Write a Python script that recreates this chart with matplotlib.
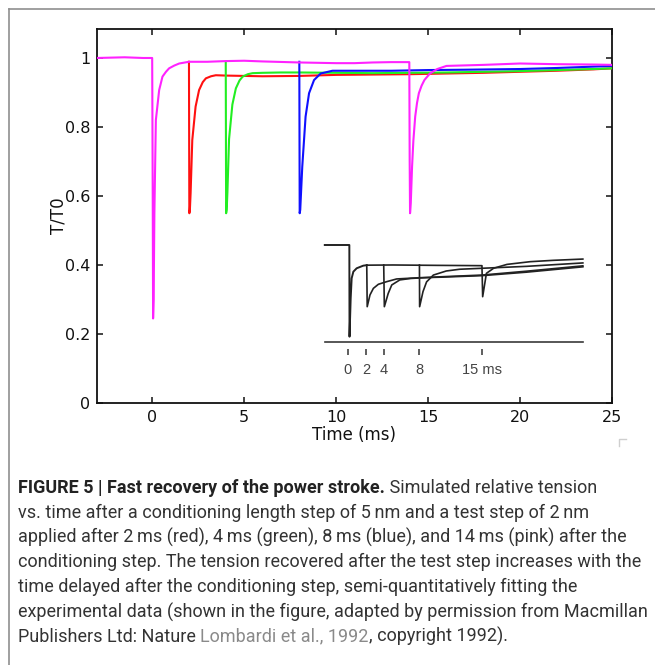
import matplotlib
matplotlib.use('Agg')
import matplotlib.pyplot as plt
from matplotlib import font_manager
from matplotlib.lines import Line2D

# ---------------- data (main simulated traces) ----------------
t_pink = [-3, -1.5, -0.5, 0.0, 0.03, 0.05, 0.08, 0.12, 0.2, 0.38, 0.56, 0.75, 0.92, 1.2, 1.47,
          2.0, 3, 4, 5, 6, 8, 10, 11, 12, 13, 13.98, 14.0, 14.02, 14.06, 14.13, 14.2, 14.3,
          14.4, 14.5, 14.65, 14.8, 15.1, 15.5, 16, 18, 20, 22, 24, 25]
T_pink = [1.0, 1.002, 1.0, 1.0, 0.6, 0.245, 0.30, 0.55, 0.82, 0.907, 0.946, 0.96, 0.97, 0.978, 0.984,
          0.989, 0.989, 0.991, 0.992, 0.99, 0.987, 0.985, 0.985, 0.987, 0.988, 0.988, 0.7, 0.55, 0.58,
          0.685, 0.76, 0.83, 0.87, 0.898, 0.92, 0.936, 0.955, 0.968, 0.977, 0.98, 0.984, 0.982, 0.981, 0.98]

t_red = [2.0, 2.02, 2.05, 2.09, 2.18, 2.36, 2.55, 2.75, 2.92, 3.2, 3.46, 4, 5, 6, 8, 10, 12, 14,
         16, 18, 20, 22, 24, 25]
T_red = [0.989, 0.55, 0.56, 0.609, 0.762, 0.859, 0.907, 0.93, 0.941, 0.947, 0.95, 0.949, 0.948,
         0.947, 0.948, 0.951, 0.952, 0.953, 0.955, 0.957, 0.96, 0.963, 0.967, 0.97]

t_green = [4.0, 4.02, 4.05, 4.09, 4.18, 4.36, 4.55, 4.75, 4.92, 5.2, 5.46, 6, 7, 8, 10, 12, 14,
           16, 18, 20, 22, 24, 25]
T_green = [0.989, 0.55, 0.56, 0.61, 0.765, 0.865, 0.912, 0.935, 0.946, 0.953, 0.956, 0.957, 0.958,
           0.958, 0.957, 0.956, 0.957, 0.958, 0.96, 0.962, 0.965, 0.968, 0.97]

t_blue = [8.0, 8.02, 8.05, 8.16, 8.34, 8.53, 8.8, 9.16, 9.8, 11, 13, 15, 17, 20, 22, 24, 25]
T_blue = [0.989, 0.55, 0.56, 0.685, 0.83, 0.898, 0.936, 0.955, 0.963, 0.963, 0.963, 0.965, 0.966,
          0.968, 0.971, 0.975, 0.977]

# ---------------- data (inset: experimental traces, relative units) ----------------
tin_cond = [-2.6, 0.0, 0.15, 0.17, 0.3, 0.41, 0.6, 0.97, 1.71, 2.1]
Tin_cond = [1.0, 1.0, 1.0, 0.055, 0.45, 0.657, 0.725, 0.76, 0.787, 0.792]

tin_15 = [2.1, 5, 10, 14.8, 15.0, 15.08, 15.5, 16.3, 17.8, 20.4, 23, 26.3]
Tin_15 = [0.792, 0.794, 0.79, 0.787, 0.787, 0.467, 0.708, 0.76, 0.80, 0.828, 0.842, 0.855]

tin_2 = [2.1, 2.15, 2.46, 2.84, 3.4, 4.33, 5.45, 8.06, 10.3, 15, 20, 26.3]
Tin_2 = [0.792, 0.364, 0.485, 0.553, 0.595, 0.622, 0.65, 0.663, 0.668, 0.684, 0.72, 0.775]

tin_4 = [4.0, 4.07, 4.5, 4.9, 5.8, 7, 10.3, 15, 20, 26.3]
Tin_4 = [0.794, 0.364, 0.50, 0.588, 0.64, 0.655, 0.672, 0.69, 0.73, 0.785]

tin_8 = [8.0, 8.02, 8.4, 8.8, 9.56, 11.0, 12.5, 15, 20, 26.3]
Tin_8 = [0.794, 0.364, 0.52, 0.62, 0.69, 0.732, 0.75, 0.76, 0.78, 0.815]

tin_base = [-2.6, 26.3]
Tin_base = [0.0, 0.0]

inset_ticks = [0, 2, 4, 8, 15]
inset_tick_labels = ['0', '2', '4', '8', '15 ms']

x_ticks = [0, 5, 10, 15, 20, 25]
y_ticks = [0, 0.2, 0.4, 0.6, 0.8, 1.0]
y_tick_labels = ['0', '0.2', '0.4', '0.6', '0.8', '1']

TXT = '#333333'
caption_lines = [
    [("FIGURE 5 | Fast recovery of the power stroke.", 'bold', '#222222'),
     (" Simulated relative tension", 'normal', TXT)],
    [("vs. time after a conditioning length step of 5\u2009nm and a test step of 2\u2009nm", 'normal', TXT)],
    [("applied after 2\u2009ms (red), 4\u2009ms (green), 8\u2009ms (blue), and 14\u2009ms (pink) after the", 'normal', TXT)],
    [("conditioning step. The tension recovered after the test step increases with the", 'normal', TXT)],
    [("time delayed after the conditioning step, semi-quantitatively fitting the", 'normal', TXT)],
    [("experimental data (shown in the figure, adapted by permission from Macmillan", 'normal', TXT)],
    [("Publishers Ltd: Nature ", 'normal', TXT),
     ("Lombardi et al., 1992", 'normal', '#8a8a8a'),
     (", copyright 1992).", 'normal', TXT)],
]

# ---------------- figure ----------------
W, H = 655, 665
fig = plt.figure(figsize=(W / 100, H / 100), dpi=100)
fig.patch.set_facecolor('white')


def fx(px):
    return px / W


def fy(py):
    return 1 - py / H


# outer frame (left and top edges)
fig.add_artist(Line2D([fx(8.5), fx(8.5)], [fy(8.5), -0.01], color='#8f8f8f', lw=1.2,
                      transform=fig.transFigure))
fig.add_artist(Line2D([fx(8.5), 1.01], [fy(8.5), fy(8.5)], color='#8f8f8f', lw=1.2,
                      transform=fig.transFigure))

# main axes
ax = fig.add_axes([fx(97), fy(403), (612 - 97) / W, (403 - 29) / H])
ax.plot(t_red, T_red, color='#ff1010', lw=1.5, zorder=3)
ax.plot(t_green, T_green, color='#22ee22', lw=1.5, zorder=3)
ax.plot(t_blue, T_blue, color='#1010ff', lw=1.5, zorder=3)
ax.plot(t_pink, T_pink, color='#ff22ff', lw=1.5, zorder=4)
ax.set_xlim(-3, 25)
ax.set_ylim(0, 1.084)
ax.set_xticks(x_ticks)
ax.set_xticklabels([str(v) for v in x_ticks])
ax.set_yticks(y_ticks)
ax.set_yticklabels(y_tick_labels)
ax.tick_params(direction='in', top=True, right=True, length=4, width=1.1,
               labelsize=11.5, colors='#111111', pad=5)
for s in ax.spines.values():
    s.set_linewidth(1.3)
    s.set_color('#111111')
ax.set_xlabel('Time (ms)', fontsize=12, color='#111111', labelpad=1)
ax.set_ylabel('T/T0', fontsize=12, color='#111111', labelpad=-2)

# inset (experimental data)
ax_in = fig.add_axes([fx(320), fy(385), 270 / W, 145 / H])
ax_in.set_xlim((320 - 348) / 8.93, (590 - 348) / 8.93)
ax_in.set_ylim((342 - 385) / 97, (342 - 240) / 97)
ax_in.axis('off')
ax_in.patch.set_alpha(0)
lc = '#222222'
ax_in.plot(tin_cond, Tin_cond, color=lc, lw=1.4)
ax_in.plot(tin_15, Tin_15, color=lc, lw=1.2)
ax_in.plot(tin_2, Tin_2, color=lc, lw=1.2)
ax_in.plot(tin_4, Tin_4, color=lc, lw=1.2)
ax_in.plot(tin_8, Tin_8, color=lc, lw=1.2)
ax_in.plot(tin_base, Tin_base, color='#3a3a3a', lw=1.2)
ax_in.vlines(inset_ticks, -0.075, -0.13, color='#333333', lw=1.1)
for t, lab in zip(inset_ticks, inset_tick_labels):
    ax_in.text(t, -0.29, lab, ha='center', va='center', fontsize=10.5, color='#444444',
               family=['Liberation Sans', 'DejaVu Sans'])

# small corner mark at bottom right
fig.add_artist(Line2D([fx(619), fx(619), fx(626)], [fy(446), fy(439), fy(439)],
                      color='#cfcfcf', lw=1.0, transform=fig.transFigure))

# ---------------- caption ----------------
names = {f.name for f in font_manager.fontManager.ttflist}
cap_family = 'Roboto' if 'Roboto' in names else 'DejaVu Sans'
renderer = fig.canvas.get_renderer()

# fit font size so the widest line spans the reference width
probe = fig.text(0, 0, caption_lines[5][0][0], fontsize=10, family=cap_family)
w10 = probe.get_window_extent(renderer).width
probe.remove()
cap_size = 10 * 630 / w10

x0 = 18
y_first = 488
dy = 24.8
for i, segs in enumerate(caption_lines):
    x = x0
    y = y_first + i * dy
    for txt, wt, col in segs:
        t = fig.text(fx(x), fy(y), txt, fontsize=cap_size, family=cap_family,
                     fontweight=('bold' if wt == 'bold' else 'normal'), color=col,
                     ha='left', va='center')
        x += t.get_window_extent(renderer).width

fig.savefig('out.png', dpi=100)
